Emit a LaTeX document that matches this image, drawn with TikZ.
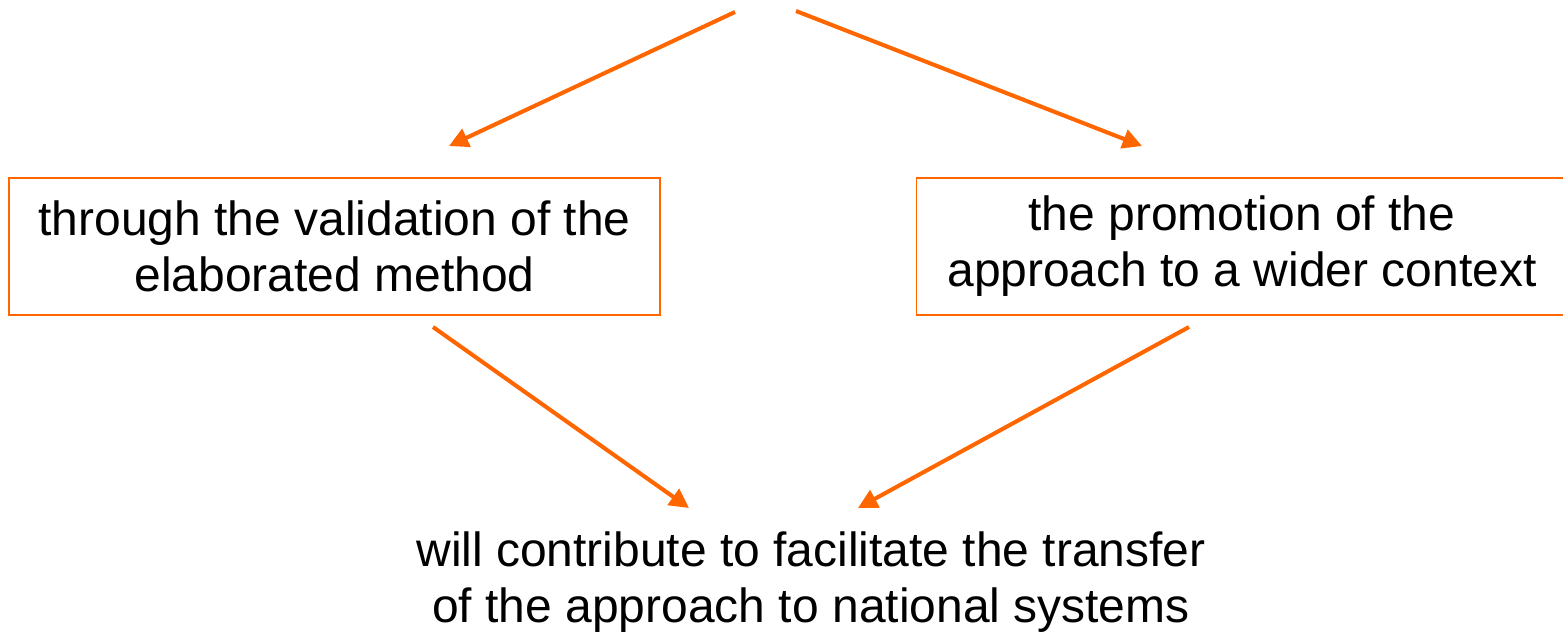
\documentclass[tikz,border=0pt]{standalone}
\usepackage{fontspec}
\setmainfont{Liberation Sans}
\usetikzlibrary{arrows.meta}
\definecolor{arroworange}{HTML}{FF6600}
\tikzset{flow/.style={-{Triangle[length=11pt,width=11pt]},line width=2.3pt,color=arroworange}}
\tikzset{bigtext/.style={align=center,font=\fontsize{27.3}{31.9}\selectfont}}
\tikzset{textbox/.style={bigtext,draw=arroworange,line width=1.1pt,minimum width=13.02cm,minimum height=2.74cm}}

\begin{document}
\begin{tikzpicture}
		\useasboundingbox (0,0) rectangle (31.26,-12.64);		% canvas
		
		% boxes
		\node[textbox] (validation) at (6.69,-4.93) {through the validation of the\\elaborated method};
		\node[textbox] (promotion) at (24.84,-4.93) {the promotion of the\\approach to a wider context};
		\node[bigtext] (transfer) at (16.22,-11.64) {will contribute to facilitate the transfer\\of the approach to national systems};
		
		% free ends
		\coordinate (topleft) at (14.70,-0.24);
		\coordinate (topright) at (15.92,-0.22);
		\coordinate (aimleft) at (8.98,-2.92);
		\coordinate (aimright) at (22.84,-2.92);
		\coordinate (fromleft) at (8.66,-6.54);
		\coordinate (fromright) at (23.78,-6.54);
		\coordinate (downleft) at (13.78,-10.16);
		\coordinate (downright) at (17.16,-10.16);
		
		% arrows
		\draw[flow] (topleft) -- (aimleft);
		\draw[flow] (topright) -- (aimright);
		\draw[flow] (fromleft) -- (downleft);
		\draw[flow] (fromright) -- (downright);
\end{tikzpicture}
\end{document}
